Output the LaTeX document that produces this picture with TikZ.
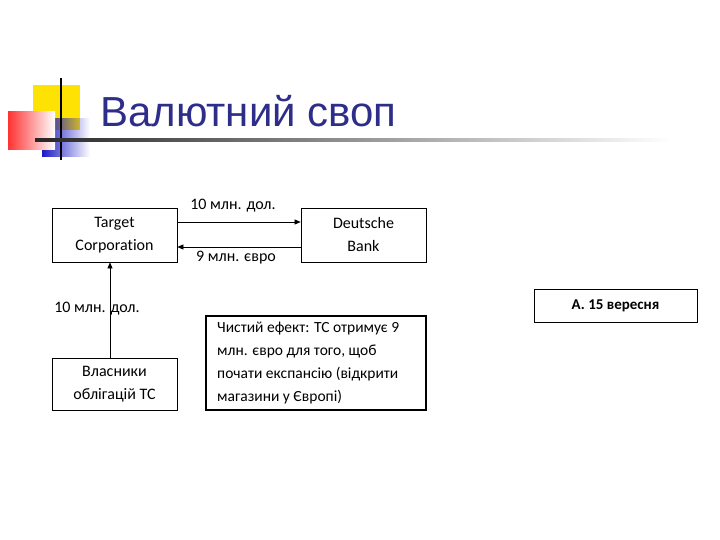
\documentclass[tikz,border=0pt]{standalone}
\usepackage{fontspec}
\setmainfont[Ligatures=NoCommon,Contextuals=NoAlternate]{Carlito}
\newfontfamily\titlefont{Liberation Sans}
\usetikzlibrary{arrows.meta,fadings}
\definecolor{titleblue}{RGB}{46,46,138}
\tikzset{
  box/.style={draw, thick, minimum width=125pt, minimum height=54pt, align=center, font=\fontsize{16}{23}\selectfont},
  arr/.style={-{Triangle[length=6pt,width=5pt]}, semithick},
  lbl/.style={font=\fontsize{16}{18}\selectfont}
}
\begin{document}
\begin{tikzpicture}[x=1pt,y=-1pt]
\useasboundingbox (0,0) rectangle (720,540);
% decorations
\fill[yellow!85!orange] (33,85) rectangle (80,130);
\fill[blue!75!black!90!white, path fading=east] (42,118) rectangle (90,157);
\shade[left color=red!80, right color=white] (8,112) rectangle (55,150);
\draw[line width=2pt] (61,78) -- (61,160);
\shade[left color=black!85, right color=white] (35,139) rectangle (670,142);
\node[anchor=base west, font=\titlefont\fontsize{42}{44}\selectfont, text=titleblue, inner sep=0] (title) at (100,127) {Валютний своп};
% boxes
\node[box] (tc) at (114.5,235) {Target\\Corporation};
\node[box] (db) at (363.5,235) {Deutsche\\Bank};
\node[box, minimum height=52pt] (vl) at (114.5,384) {Власники\\облігацій TC};
\node[draw, line width=1.6pt, minimum width=220pt, minimum height=94pt, inner sep=0] (ef) at (316,363) {};
\node[anchor=north west, align=left, font=\fontsize{15.5}{23}\selectfont, inner sep=0] (eft) at (217,322)
 {Чистий ефект: TC отримує 9\\млн. євро для того, щоб\\почати експансію (відкрити\\магазини у Європі)};
\node[draw, thick, minimum width=163pt, minimum height=33pt, font=\bfseries\fontsize{15}{17}\selectfont] (dt) at (615.5,305.5) {А. 15 вересня};
% connectors
\draw[arr] ([yshift=13pt]tc.east) -- ([yshift=13pt]db.west);
\draw[arr] ([yshift=-12pt]db.west) -- ([yshift=-12pt]tc.east);
\draw[arr] (vl.north -| 110,0) -- (tc.south -| 110,0);
\node[lbl] (l1) at (233,206) {10 млн. дол.};
\node[lbl] (l2) at (236,258) {9 млн. євро};
\node[lbl] (l3) at (97,309) {10 млн. дол.};
\end{tikzpicture}
\end{document}
